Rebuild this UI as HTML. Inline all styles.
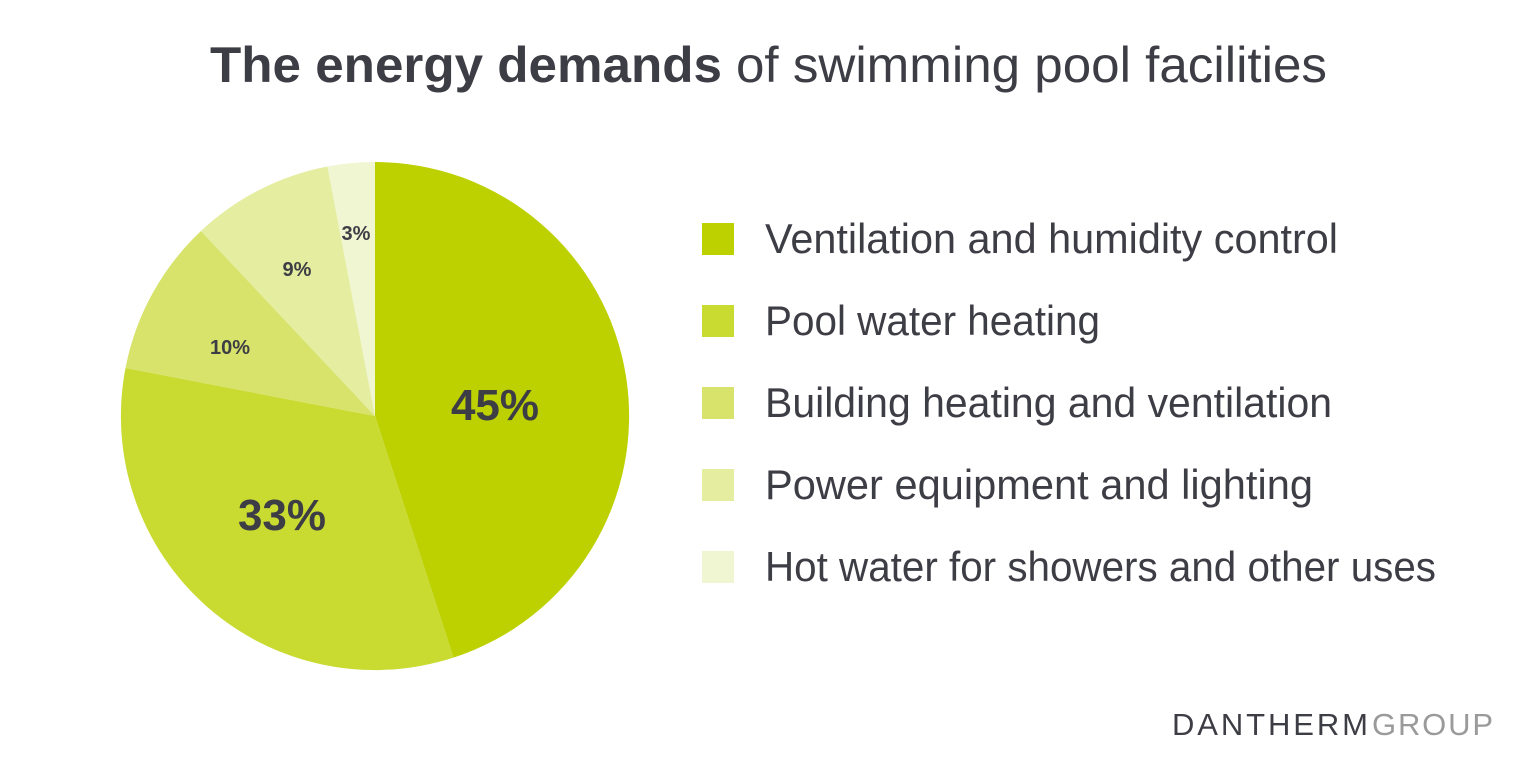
<!DOCTYPE html>
<html><head><meta charset="utf-8"><style>html,body{margin:0;padding:0;background:#fff}svg{display:block}</style></head>
<body>
<svg width="1536" height="779" viewBox="0 0 1536 779" xmlns="http://www.w3.org/2000/svg" font-family="Liberation Sans, sans-serif">
<rect width="1536" height="779" fill="#fff"/>
<text y="82" font-size="50" fill="#3d3d45"><tspan x="210" font-weight="bold" textLength="512" lengthAdjust="spacingAndGlyphs">The energy demands</tspan><tspan x="736" textLength="591" lengthAdjust="spacingAndGlyphs">of swimming pool facilities</tspan></text>
<g>
<path d="M375,416 L375,162 A254,254 0 0 1 453.5,657.6 Z" fill="#bdd000"/>
<path d="M375,416 L453.5,657.6 A254,254 0 0 1 125.5,368 Z" fill="#c9da31"/>
<path d="M375,416 L125.5,368 A254,254 0 0 1 201,231 Z" fill="#d7e36a"/>
<path d="M375,416 L201,231 A254,254 0 0 1 327.5,166.5 Z" fill="#e4eda0"/>
<path d="M375,416 L327.5,166.5 A254,254 0 0 1 375,162 Z" fill="#f1f6d2"/>
</g>
<g fill="#3d3d45" font-weight="bold" text-anchor="middle">
<text x="495" y="420" font-size="44">45%</text>
<text x="282" y="530" font-size="44">33%</text>
<text x="230" y="354" font-size="20">10%</text>
<text x="297" y="276" font-size="20">9%</text>
<text x="356" y="240" font-size="20">3%</text>
</g>
<rect x="702" y="223" width="32" height="32" fill="#bdd000"/>
<rect x="702" y="305" width="32" height="32" fill="#c9da31"/>
<rect x="702" y="387" width="32" height="32" fill="#d7e36a"/>
<rect x="702" y="469" width="32" height="32" fill="#e4eda0"/>
<rect x="702" y="551" width="32" height="32" fill="#f1f6d2"/>
<g fill="#3d3d45" font-size="42">
<text x="765" y="253" textLength="573" lengthAdjust="spacingAndGlyphs">Ventilation and humidity control</text>
<text x="765" y="335" textLength="335" lengthAdjust="spacingAndGlyphs">Pool water heating</text>
<text x="765" y="417" textLength="567" lengthAdjust="spacingAndGlyphs">Building heating and ventilation</text>
<text x="765" y="499" textLength="548" lengthAdjust="spacingAndGlyphs">Power equipment and lighting</text>
<text x="765" y="581" textLength="671" lengthAdjust="spacingAndGlyphs">Hot water for showers and other uses</text>
</g>
<text y="735" font-size="31"><tspan x="1172" fill="#3d3d45" textLength="196" lengthAdjust="spacing">DANTHERM</tspan><tspan x="1372" fill="#9a9a9a" textLength="121" lengthAdjust="spacing">GROUP</tspan></text>
</svg>
</body></html>
